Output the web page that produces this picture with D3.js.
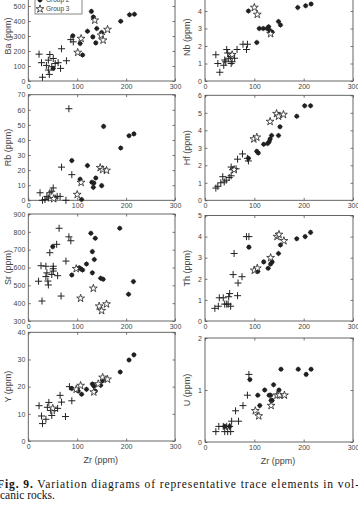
<!DOCTYPE html>
<html>
<head>
<meta charset="utf-8">
<script src="https://cdn.jsdelivr.net/npm/d3@7"></script>
<style>
  body { margin: 0; background: #fff; }
  svg { display: block; }
  .tick text { font-family: "Liberation Sans", Arial, sans-serif; font-size: 7px; fill: #444; }
  .tick line { stroke: #555; }
</style>
</head>
<body>
<div class="container"></div>
<script>
var WIDTH = 358, HEIGHT = 512;

var zrTicks = [0, 100, 200, 300];
var groupNames = ["Group 1", "Group 2", "Group 3"];

// [Zr, element] pairs, per panel and group
var baG1 = [[22,179],[27,122],[29,25],[37,104],[41,139],[44,177],[51,150],[41,73],[43,44],[48,95],[55,117],[61,122],[66,84],[68,215],[78,135],[87,276],[92,261]];
var baG2 = [[129,464],[133,427],[121,332],[91,301],[132,294],[106,250],[111,173],[138,254],[140,350],[150,323],[189,398],[207,442],[217,445],[51,84]];
var baG3 = [[136,405],[101,190],[108,283],[149,305],[153,272],[162,343]];

var nbG1 = [[22,1.5],[26,1.0],[30,0.5],[38,0.9],[40,1.2],[42,1.1],[44,1.8],[46,1.6],[48,1.3],[52,1.4],[53,1.0],[55,1.1],[60,1.3],[65,1.8],[77,2.1],[84,1.8],[86,2.1]];
var nbG2 = [[88,4.0],[105,2.2],[110,3.0],[118,3.0],[126,3.0],[129,3.1],[131,2.9],[133,2.8],[136,2.8],[149,3.4],[153,3.2],[188,4.2],[204,4.3],[215,4.4]];
var nbG3 = [[100,4.2],[106,3.8],[133,2.7],[55,1.5]];

var rbG1 = [[83,60.7],[68,22],[89,17],[24,5],[29,0],[34,0.5],[38,2.6],[41,1.5],[44,5],[48,6],[51,8.2],[55,1.5],[59,2.6],[65,2.6],[77,0]];
var rbG2 = [[89,26.3],[121,23],[106,14],[109,0.5],[130,12],[133,8.6],[134,11.5],[138,14.8],[150,9.7],[154,49],[189,34.7],[206,42.8],[216,44]];
var rbG3 = [[100,3.8],[108,11.8],[147,21.6],[152,20.3],[160,19.8],[52,1]];

var hfG1 = [[22,0.7],[26,0.8],[32,1.0],[36,1.35],[39,1.05],[43,1.15],[49,1.3],[53,1.4],[53,1.9],[56,1.75],[63,1.8],[66,2.35],[76,2.65],[86,2.4],[88,2.25]];
var hfG2 = [[88,2.4],[105,2.8],[108,2.7],[119,3.2],[127,3.25],[130,3.35],[132,3.5],[135,3.7],[149,3.7],[152,4.2],[186,4.8],[202,5.4],[214,5.4]];
var hfG3 = [[99,3.5],[105,3.6],[132,4.5],[145,4.95],[149,4.8],[159,4.9],[59,1.75]];

var srG1 = [[21,523],[26,610],[28,412],[36,607],[38,570],[36,549],[40,524],[41,502],[44,683],[48,561],[51,593],[51,580],[51,607],[58,730],[60,554],[63,820],[67,440],[77,636],[83,772],[87,750]];
var srG2 = [[50,717],[89,558],[104,598],[108,592],[111,586],[119,620],[128,792],[131,689],[131,570],[135,645],[137,764],[148,540],[153,534],[187,820],[205,450],[215,521]];
var srG3 = [[98,593],[107,427],[133,483],[145,383],[150,358],[160,395]];

var thG1 = [[20,0.6],[27,0.7],[29,1.1],[37,1.1],[40,0.8],[44,0.8],[47,0.8],[48,1.15],[50,1.3],[52,0.7],[57,2.2],[59,3.2],[66,1.2],[67,1.8],[75,2.1],[84,4.0],[89,4.0]];
var thG2 = [[89,3.5],[105,2.4],[107,2.35],[119,2.8],[128,2.5],[133,2.7],[136,2.8],[149,3.2],[153,3.6],[186,3.9],[203,4.0],[214,4.2]];
var thG3 = [[100,2.4],[106,2.5],[133,3.0],[146,4.0],[150,4.1],[160,3.8]];

var yG1 = [[22,13],[27,9.2],[29,6.4],[36,8],[39,12.4],[42,14.2],[46,11.2],[48,9.4],[53,11.2],[60,12],[65,16.8],[68,14.3],[76,9],[84,20],[89,14.8]];
var yG2 = [[89,19.3],[102,18.4],[109,17.2],[119,19],[131,21],[134,20.2],[137,18.4],[148,20.5],[152,22.2],[188,25.4],[206,29.8],[216,31.7]];
var yG3 = [[98,19],[107,20.4],[134,18],[143,21],[152,23.4],[162,22.7],[50,12]];

var uG1 = [[22,0.2],[28,0.3],[37,0.3],[40,0.2],[44,0.3],[46,0.2],[50,0.3],[52,0.2],[54,0.4],[62,0.6],[68,0.4],[77,0.7],[86,0.9],[89,1.3]];
var uG2 = [[91,1.2],[107,0.9],[111,0.7],[121,1.0],[130,0.9],[133,0.9],[134,0.8],[136,0.8],[139,1.1],[150,1.0],[154,1.4],[189,1.4],[205,1.3],[215,1.4],[40,0.3],[50,0.3]];
var uG3 = [[102,0.6],[109,0.5],[134,0.7],[146,0.9],[151,0.9],[161,0.9]];

var panels = [
  {name:"Ba (ppm)", g:[baG1,baG2,baG3], dom:[0,600], ticks:[0,100,200,300,400,500], left:28.3, right:175, top:-9, bottom:81, legend:true},
  {name:"Nb (ppm)", g:[nbG1,nbG2,nbG3], dom:[0,5], ticks:[0,1,2,3,4], left:205, right:353, top:-6.5, bottom:81},
  {name:"Rb (ppm)", g:[rbG1,rbG2,rbG3], dom:[0,70], ticks:[0,10,20,30,40,50,60,70], left:28.3, right:175, top:94.7, bottom:200.3},
  {name:"Hf (ppm)", g:[hfG1,hfG2,hfG3], dom:[0,6], ticks:[0,1,2,3,4,5,6], left:205, right:353, top:95.3, bottom:200.3},
  {name:"Sr (ppm)", g:[srG1,srG2,srG3], dom:[300,900], ticks:[300,400,500,600,700,800,900], left:28.3, right:175, top:214, bottom:321},
  {name:"Th (ppm)", g:[thG1,thG2,thG3], dom:[0,5], ticks:[0,1,2,3,4,5], left:205, right:353, top:215.5, bottom:321},
  {name:"Y (ppm)", g:[yG1,yG2,yG3], dom:[0,40], ticks:[0,10,20,30,40], left:28.3, right:175, top:332.3, bottom:441, xTitle:true},
  {name:"U (ppm)", g:[uG1,uG2,uG3], dom:[0,2], ticks:[0,1,2], left:205, right:353, top:338, bottom:442, xTitle:true}
];

var svg = d3.select('.container').append('svg')
            .attr('width', WIDTH)
            .attr('height', HEIGHT);

var starPath = d3.symbol().type(d3.symbolStar).size(19)();
var plusPath = "M-3.5,0H3.5M0,-3.5V3.5";
var intFmt = d3.format('d');

var drawMark = function(sel, grp){
    if (grp === 0) {
        sel.append('path').attr('d', plusPath).attr('stroke', '#222').attr('stroke-width', 1).attr('fill', 'none');
    } else if (grp === 1) {
        sel.append('circle').attr('r', 2.3).attr('fill', '#222');
        sel.append('path').attr('d', "M-2.8,0H2.8M0,-2.8V2.8").attr('stroke', '#222').attr('stroke-width', 0.6);
    } else {
        sel.append('path').attr('d', starPath).attr('fill', '#fff').attr('stroke', '#222').attr('stroke-width', 0.8);
    }
};

panels.forEach(function(p){
    var x = d3.scaleLinear().domain([0,300]).range([p.left, p.right]);
    var y = d3.scaleLinear().domain(p.dom).range([p.bottom, p.top]);

    var g = svg.append('g').classed('panel', true);

    g.append('rect')
      .attr('x', p.left).attr('y', p.top)
      .attr('width', p.right - p.left).attr('height', p.bottom - p.top)
      .attr('fill', 'none').attr('stroke', '#555').attr('stroke-width', 0.9);

    var ax = [
        d3.axisBottom(x).tickValues(zrTicks).tickSize(-2.5).tickPadding(3).tickFormat(intFmt),
        d3.axisTop(x).tickValues(zrTicks).tickSize(-2.5).tickFormat(''),
        d3.axisLeft(y).tickValues(p.ticks).tickSize(-2.5).tickPadding(3).tickFormat(intFmt),
        d3.axisRight(y).tickValues(p.ticks).tickSize(-2.5).tickFormat('')
    ];
    var pos = ['translate(0,'+p.bottom+')', 'translate(0,'+p.top+')', 'translate('+p.left+',0)', 'translate('+p.right+',0)'];
    ax.forEach(function(a, i){
        var ag = g.append('g').attr('transform', pos[i]).call(a.tickSizeOuter(0));
        ag.select('.domain').remove();
        ag.selectAll('.tick line').attr('stroke-width', 0.8);
    });

    var lx = p.left < 100 ? 8 : 187;
    g.append('text')
      .attr('transform', 'translate('+lx+','+((p.top+p.bottom)/2)+') rotate(-90)')
      .attr('text-anchor', 'middle')
      .attr('dy', '0.35em')
      .style('font-family', '"Liberation Sans", Arial, sans-serif')
      .style('font-size', '9px')
      .attr('fill', '#444')
      .text(p.name);

    if (p.xTitle) {
        g.append('text')
          .attr('x', (p.left+p.right)/2 - 1).attr('y', p.bottom + 22)
          .attr('text-anchor', 'middle')
          .style('font-family', '"Liberation Sans", Arial, sans-serif')
          .style('font-size', '9px')
          .attr('fill', '#444')
          .text('Zr (ppm)');
    }

    [0,1,2].forEach(function(k){
        g.selectAll('g.m'+k).data(p.g[k])
          .enter()
          .append('g')
            .classed('m'+k, true)
            .attr('transform', function(d){ return 'translate('+x(d[0])+','+y(d[1])+')'; })
            .each(function(){ drawMark(d3.select(this), k); });
    });

    if (p.legend) {
        var lg = g.append('g');
        lg.append('rect').attr('x', 35).attr('y', -20).attr('width', 47).attr('height', 34)
          .attr('fill', '#fff').attr('stroke', '#555').attr('stroke-width', 0.7);
        groupNames.forEach(function(n, i){
            var yy = -9 + i*9;
            var mg = lg.append('g').attr('transform', 'translate(40,'+yy+')');
            drawMark(mg, i);
            lg.append('text').attr('x', 46).attr('y', yy).attr('dy', '0.35em')
              .style('font-family', '"Liberation Sans", Arial, sans-serif')
              .style('font-size', '6.5px').attr('fill', '#444')
              .text(n);
        });
    }
});

// caption
var cap = svg.append('text')
    .attr('x', -3).attr('y', 488)
    .style('font-family', '"Liberation Serif", "Times New Roman", serif')
    .style('font-size', '11.5px')
    .attr('fill', '#111')
    .attr('textLength', 362).attr('lengthAdjust', 'spacing');
cap.append('tspan').style('font-weight', 'bold').text('Fig. 9.');
cap.append('tspan').text(' Variation diagrams of representative trace elements in vol-');

svg.append('text')
    .attr('x', 0).attr('y', 499)
    .style('font-family', '"Liberation Serif", "Times New Roman", serif')
    .style('font-size', '11.5px')
    .attr('fill', '#111')
    .text('canic rocks.');
</script>
</body>
</html>
